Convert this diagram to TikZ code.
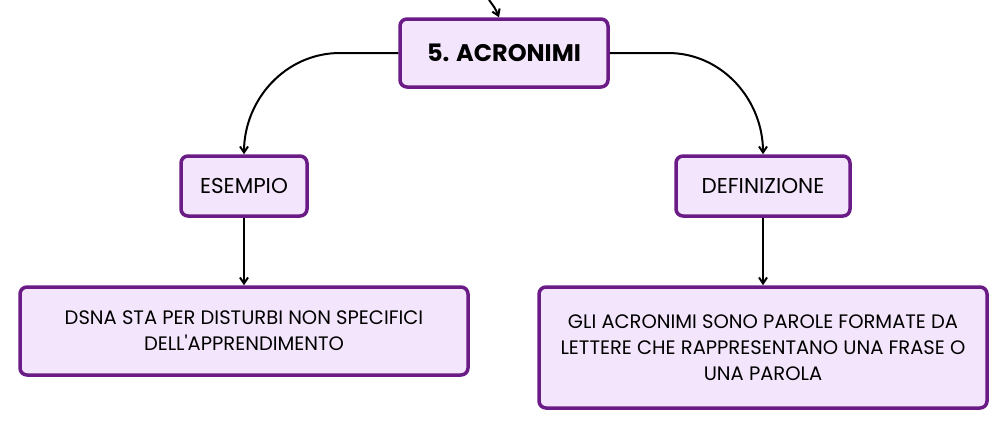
\documentclass[tikz,border=0pt]{standalone}
\usepackage{fontspec}
\setmainfont{Poppins}
\usetikzlibrary{arrows.meta}
\definecolor{boxline}{HTML}{6A1B86}
\definecolor{boxfill}{HTML}{F3E5FB}
\tikzset{
  box/.style={draw=boxline,fill=boxfill,line width=3.5pt,rounded corners=7pt,align=center,inner sep=0pt},
  link/.style={line width=2pt,-{Straight Barb[length=6pt,width=8pt]}}
}
\begin{document}
\begin{tikzpicture}[x=1pt,y=-1pt]
\useasboundingbox (0,0) rectangle (1008,429);
% nodi
\node[box,minimum width=208pt,minimum height=68pt,font=\fontsize{24}{28}\selectfont\bfseries] (titolo) at (504,53) {5. ACRONIMI};
\node[box,minimum width=126pt,minimum height=60pt,font=\fontsize{21.5}{24}\selectfont] (esempio) at (244,186) {ESEMPIO};
\node[box,minimum width=174pt,minimum height=60pt,font=\fontsize{21.5}{24}\selectfont] (definizione) at (763,186) {DEFINIZIONE};
\node[box,minimum width=448pt,minimum height=88pt,font=\fontsize{19.5}{26}\selectfont] (dsna) at (244,331) {DSNA STA PER DISTURBI NON SPECIFICI\\DELL\textquotesingle APPRENDIMENTO};
\node[box,minimum width=448pt,minimum height=121pt,font=\fontsize{19.5}{26}\selectfont] (gli) at (763,347.5) {GLI ACRONIMI SONO PAROLE FORMATE DA\\LETTERE CHE RAPPRESENTANO UNA FRASE O\\UNA PAROLA};
% collegamenti
\coordinate (sopra) at (489,0);
\draw[link] (sopra) .. controls (495,8) .. (titolo.north-|{(499,0)});
\draw[link] (titolo.west) -- (340,53) to[out=180,in=90] (esempio.north);
\draw[link] (titolo.east) -- (668,53) to[out=0,in=90] (definizione.north);
\draw[link] (esempio.south) -- (dsna.north);
\draw[link] (definizione.south) -- (gli.north);
\end{tikzpicture}
\end{document}
